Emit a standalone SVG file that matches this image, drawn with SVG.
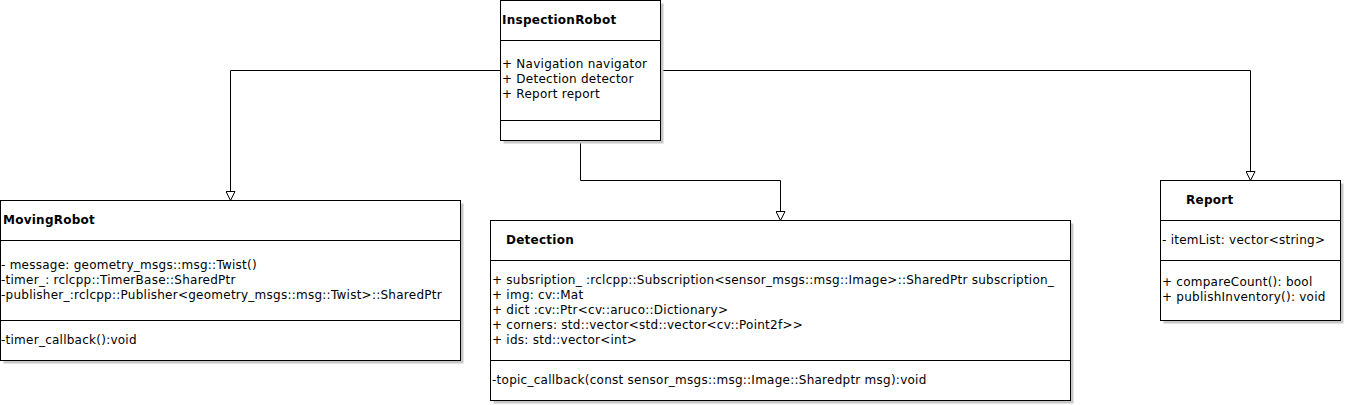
<svg xmlns="http://www.w3.org/2000/svg" width="1345" height="405" viewBox="0 0 1345 405">
<style>
  .box{fill:#ffffff;stroke:#000000;stroke-width:1}
  .shadow{fill:#c8c8c8;stroke:none}
  .div{stroke:#000000;stroke-width:1;fill:none}
  .edge{stroke:#000000;stroke-width:1;fill:none}
  text{font-family:"DejaVu Sans","Noto Sans",sans-serif;font-size:12px;letter-spacing:0.25px;fill:#000000}
  .title{font-weight:bold}
</style>
<defs>
  <marker id="tri" markerUnits="userSpaceOnUse" markerWidth="12" markerHeight="10" refX="10" refY="5" orient="auto" viewBox="0 0 12 10">
    <path d="M1,0.5 L10,5 L1,9.5 Z" fill="#ffffff" stroke="#000000" stroke-width="1"/>
  </marker>
</defs>
<rect width="1345" height="405" fill="#ffffff"/>
<g id="connectors">
  <path class="edge" d="M500.5,70.5 H230.5 V200.5" marker-end="url(#tri)"/>
  <path class="edge" d="M660.5,70.5 H1250.5 V180.5" marker-end="url(#tri)"/>
  <path class="edge" d="M580.5,140.5 V180.5 H780.5 V220.5" marker-end="url(#tri)"/>
</g>
<g id="InspectionRobot">
  <rect class="shadow" x="503.5" y="3.5" width="160" height="140"/>
  <rect class="box" x="500.5" y="0.5" width="160" height="140"/>
  <line class="div" x1="500.5" y1="40.5" x2="660.5" y2="40.5"/>
  <line class="div" x1="500.5" y1="120.5" x2="660.5" y2="120.5"/>
  <text class="title" x="502" y="24">InspectionRobot</text>
  <text x="502" y="68">+ Navigation navigator</text>
  <text x="502" y="83">+ Detection detector</text>
  <text x="502" y="98">+ Report report</text>
</g>
<g id="MovingRobot">
  <rect class="shadow" x="3.5" y="203.5" width="460" height="160"/>
  <rect class="box" x="0.5" y="200.5" width="460" height="160"/>
  <line class="div" x1="0.5" y1="240.5" x2="460.5" y2="240.5"/>
  <line class="div" x1="0.5" y1="320.5" x2="460.5" y2="320.5"/>
  <text class="title" x="3" y="224">MovingRobot</text>
  <text x="1" y="269">- message: geometry_msgs::msg::Twist()</text>
  <text x="1" y="284">-timer_: rclcpp::TimerBase::SharedPtr</text>
  <text x="1" y="299">-publisher_:rclcpp::Publisher&lt;geometry_msgs::msg::Twist&gt;::SharedPtr</text>
  <text x="1" y="344">-timer_callback():void</text>
</g>
<g id="Detection">
  <rect class="shadow" x="493.5" y="223.5" width="580" height="180"/>
  <rect class="box" x="490.5" y="220.5" width="580" height="180"/>
  <line class="div" x1="490.5" y1="260.5" x2="1070.5" y2="260.5"/>
  <line class="div" x1="490.5" y1="360.5" x2="1070.5" y2="360.5"/>
  <text class="title" x="506" y="244">Detection</text>
  <text x="492" y="284">+ subsription_ :rclcpp::Subscription&lt;sensor_msgs::msg::Image&gt;::SharedPtr subscription_</text>
  <text x="492" y="299">+ img: cv::Mat</text>
  <text x="492" y="314">+ dict :cv::Ptr&lt;cv::aruco::Dictionary&gt;</text>
  <text x="492" y="329">+ corners: std::vector&lt;std::vector&lt;cv::Point2f&gt;&gt;</text>
  <text x="492" y="344">+ ids: std::vector&lt;int&gt;</text>
  <text x="492" y="384">-topic_callback(const sensor_msgs::msg::Image::Sharedptr msg):void</text>
</g>
<g id="Report">
  <rect class="shadow" x="1163.5" y="183.5" width="180" height="140"/>
  <rect class="box" x="1160.5" y="180.5" width="180" height="140"/>
  <line class="div" x1="1160.5" y1="220.5" x2="1340.5" y2="220.5"/>
  <line class="div" x1="1160.5" y1="260.5" x2="1340.5" y2="260.5"/>
  <text class="title" x="1186" y="204">Report</text>
  <text x="1162" y="244">- itemList: vector&lt;string&gt;</text>
  <text x="1162" y="286">+ compareCount(): bool</text>
  <text x="1162" y="301">+ publishInventory(): void</text>
</g>
</svg>
